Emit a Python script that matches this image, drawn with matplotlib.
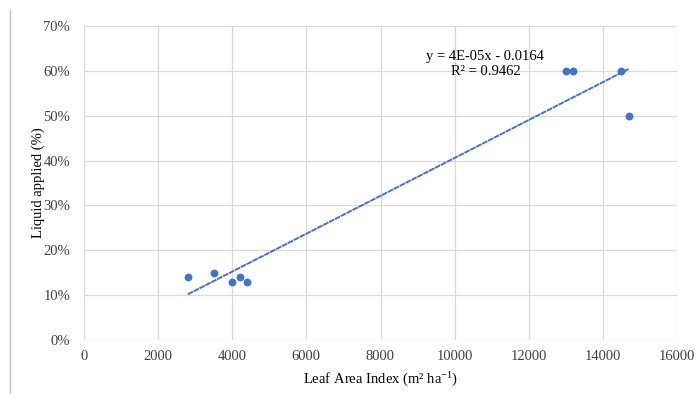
import numpy as np
import matplotlib
matplotlib.use("Agg")
import matplotlib.pyplot as plt
from matplotlib.lines import Line2D
from matplotlib.ticker import PercentFormatter

lai = [2800, 3500, 4000, 4200, 4400, 13000, 13200, 14500, 14700]
liquid = [0.14, 0.15, 0.13, 0.14, 0.13, 0.60, 0.60, 0.60, 0.50]
x_ticks = [0, 2000, 4000, 6000, 8000, 10000, 12000, 14000, 16000]
y_ticks = [0.0, 0.1, 0.2, 0.3, 0.4, 0.5, 0.6, 0.7]
eq_text = "y = 4E-05x - 0.0164\nR² = 0.9462"

plt.rcParams['font.family'] = ['Liberation Serif', 'DejaVu Serif']
plt.rcParams['mathtext.fontset'] = 'custom'
plt.rcParams['mathtext.rm'] = 'Liberation Serif'
plt.rcParams['mathtext.it'] = 'Liberation Serif:italic'

fig = plt.figure(figsize=(6.97, 3.94), dpi=100)
ax = fig.add_axes([84/697, 1-340/394, (677-84)/697, (340-26)/394])

blue = '#4472C4'
ax.scatter(lai, liquid, s=32, color=blue, zorder=3, linewidths=0)

coef = np.polyfit(lai, liquid, 1)
xs = np.array([min(lai), max(lai)])
ax.plot(xs, np.polyval(coef, xs), color=blue, lw=1.4, dashes=(3, 0.4), zorder=2)

ax.set_xlim(0, 16000)
ax.set_ylim(0, 0.7)
ax.set_xticks(x_ticks)
ax.set_yticks(y_ticks)
ax.yaxis.set_major_formatter(PercentFormatter(1.0, decimals=0))
ax.grid(True, color='#d9d9d9', lw=0.9)
ax.set_axisbelow(True)
for s in ax.spines.values():
    s.set_visible(False)
ax.tick_params(length=0, labelsize=10.5, colors='#404040', pad=7)
ax.tick_params(axis='y', pad=10)

ax.set_xlabel(r"Leaf Area Index (m² ha$^{\mathrm{-1}}$)", fontsize=10.5, labelpad=6)
ax.set_ylabel("Liquid applied (%)", fontsize=10.5)
ax.yaxis.set_label_coords(-0.066, 0.5)

ax.text(10830, 0.615, eq_text, ha='center', va='center', fontsize=10.5,
        linespacing=1.15, color='#000000')

fig.add_artist(Line2D([10/697, 10/697], [0, 1-10/394], color='#bfbfbf', lw=1,
                      transform=fig.transFigure))

fig.savefig("out.png", dpi=100)
